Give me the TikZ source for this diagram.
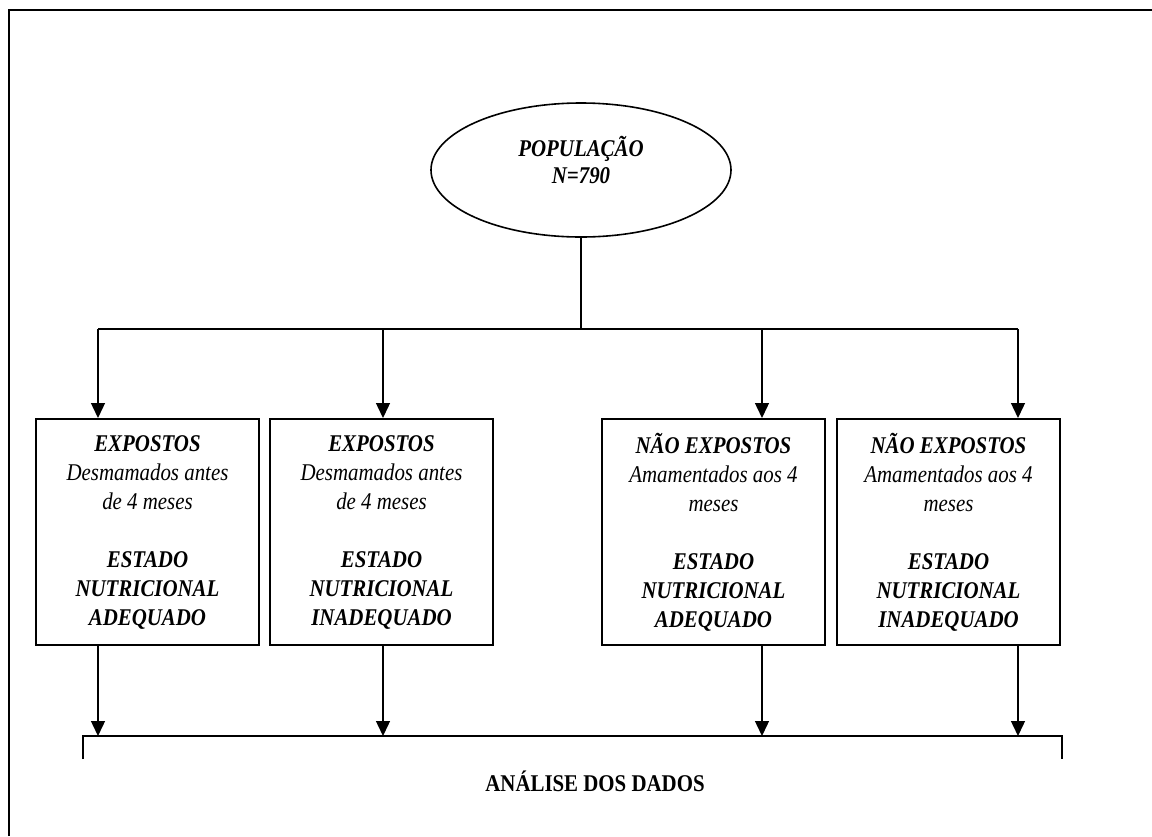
\documentclass[tikz,border=0pt]{standalone}
\usepackage{fontspec}
\setmainfont{Liberation Serif}[FakeStretch=0.87]
\usetikzlibrary{arrows.meta,shapes.geometric}
\begin{document}
\begin{tikzpicture}[x=0.5pt,y=-0.5pt,
  txt/.style={font=\fontsize{12}{14.5}\selectfont},
  box/.style={txt,draw,line width=1pt,minimum width=111.5pt,minimum height=113pt,align=center,inner sep=0pt},
  conn/.style={line width=0.7pt},
  arr/.style={conn,-{Triangle[length=7.5pt,width=7pt]}},
  frameline/.style={line width=1.1pt}]
\useasboundingbox (0,0) rectangle (1152,836);
% frame (top and left edges only)
\draw[frameline] (9,836) -- (9,10) -- (1152,10);
% population ellipse
\node[draw,ellipse,line width=0.8pt,minimum width=150pt,minimum height=67pt,inner sep=0pt] (pop) at (581,170) {};
\node[txt,align=center,font=\fontsize{12}{13.5}\selectfont\bfseries\itshape] (poptxt) at (581,160) {POPULAÇÃO\\N=790};
% distribution line
\coordinate (t1) at (98,329);
\coordinate (t2) at (383,329);
\coordinate (t3) at (762,329);
\coordinate (t4) at (1018,329);
\draw[conn] (pop.south) -- (pop.south |- t1);
\draw[conn] (t1) -- (t4);
% boxes
\node[box] (b1) at (147.5,532) {{\bfseries\itshape EXPOSTOS}\\ \textit{Desmamados antes}\\ \textit{de 4 meses}\\ ~\\ {\bfseries\itshape ESTADO}\\ {\bfseries\itshape NUTRICIONAL}\\ {\bfseries\itshape ADEQUADO}};
\node[box] (b2) at (381.5,532) {{\bfseries\itshape EXPOSTOS}\\ \textit{Desmamados antes}\\ \textit{de 4 meses}\\ ~\\ {\bfseries\itshape ESTADO}\\ {\bfseries\itshape NUTRICIONAL}\\ {\bfseries\itshape INADEQUADO}};
\node[box] (b3) at (713.5,532) {{\bfseries\itshape NÃO EXPOSTOS}\\ \textit{Amamentados aos 4}\\ \textit{meses}\\ ~\\ {\bfseries\itshape ESTADO}\\ {\bfseries\itshape NUTRICIONAL}\\ {\bfseries\itshape ADEQUADO}};
\node[box] (b4) at (948.5,532) {{\bfseries\itshape NÃO EXPOSTOS}\\ \textit{Amamentados aos 4}\\ \textit{meses}\\ ~\\ {\bfseries\itshape ESTADO}\\ {\bfseries\itshape NUTRICIONAL}\\ {\bfseries\itshape INADEQUADO}};
\draw[arr] (t1) -- (t1 |- b1.north);
\draw[arr] (t2) -- (t2 |- b2.north);
\draw[arr] (t3) -- (t3 |- b3.north);
\draw[arr] (t4) -- (t4 |- b4.north);
% bracket
\coordinate (brl) at (83,736);
\coordinate (brr) at (1062,736);
\draw[conn] ([yshift=-11.5pt]brl) -- (brl) -- (brr) -- ([yshift=-11.5pt]brr);
\draw[arr] (t1 |- b1.south) -- (t1 |- brl);
\draw[arr] (t2 |- b2.south) -- (t2 |- brl);
\draw[arr] (t3 |- b3.south) -- (t3 |- brl);
\draw[arr] (t4 |- b4.south) -- (t4 |- brl);
\node[txt,font=\fontsize{12}{14}\selectfont\bfseries] (analise) at (595,781) {ANÁLISE DOS DADOS};
\end{tikzpicture}
\end{document}
